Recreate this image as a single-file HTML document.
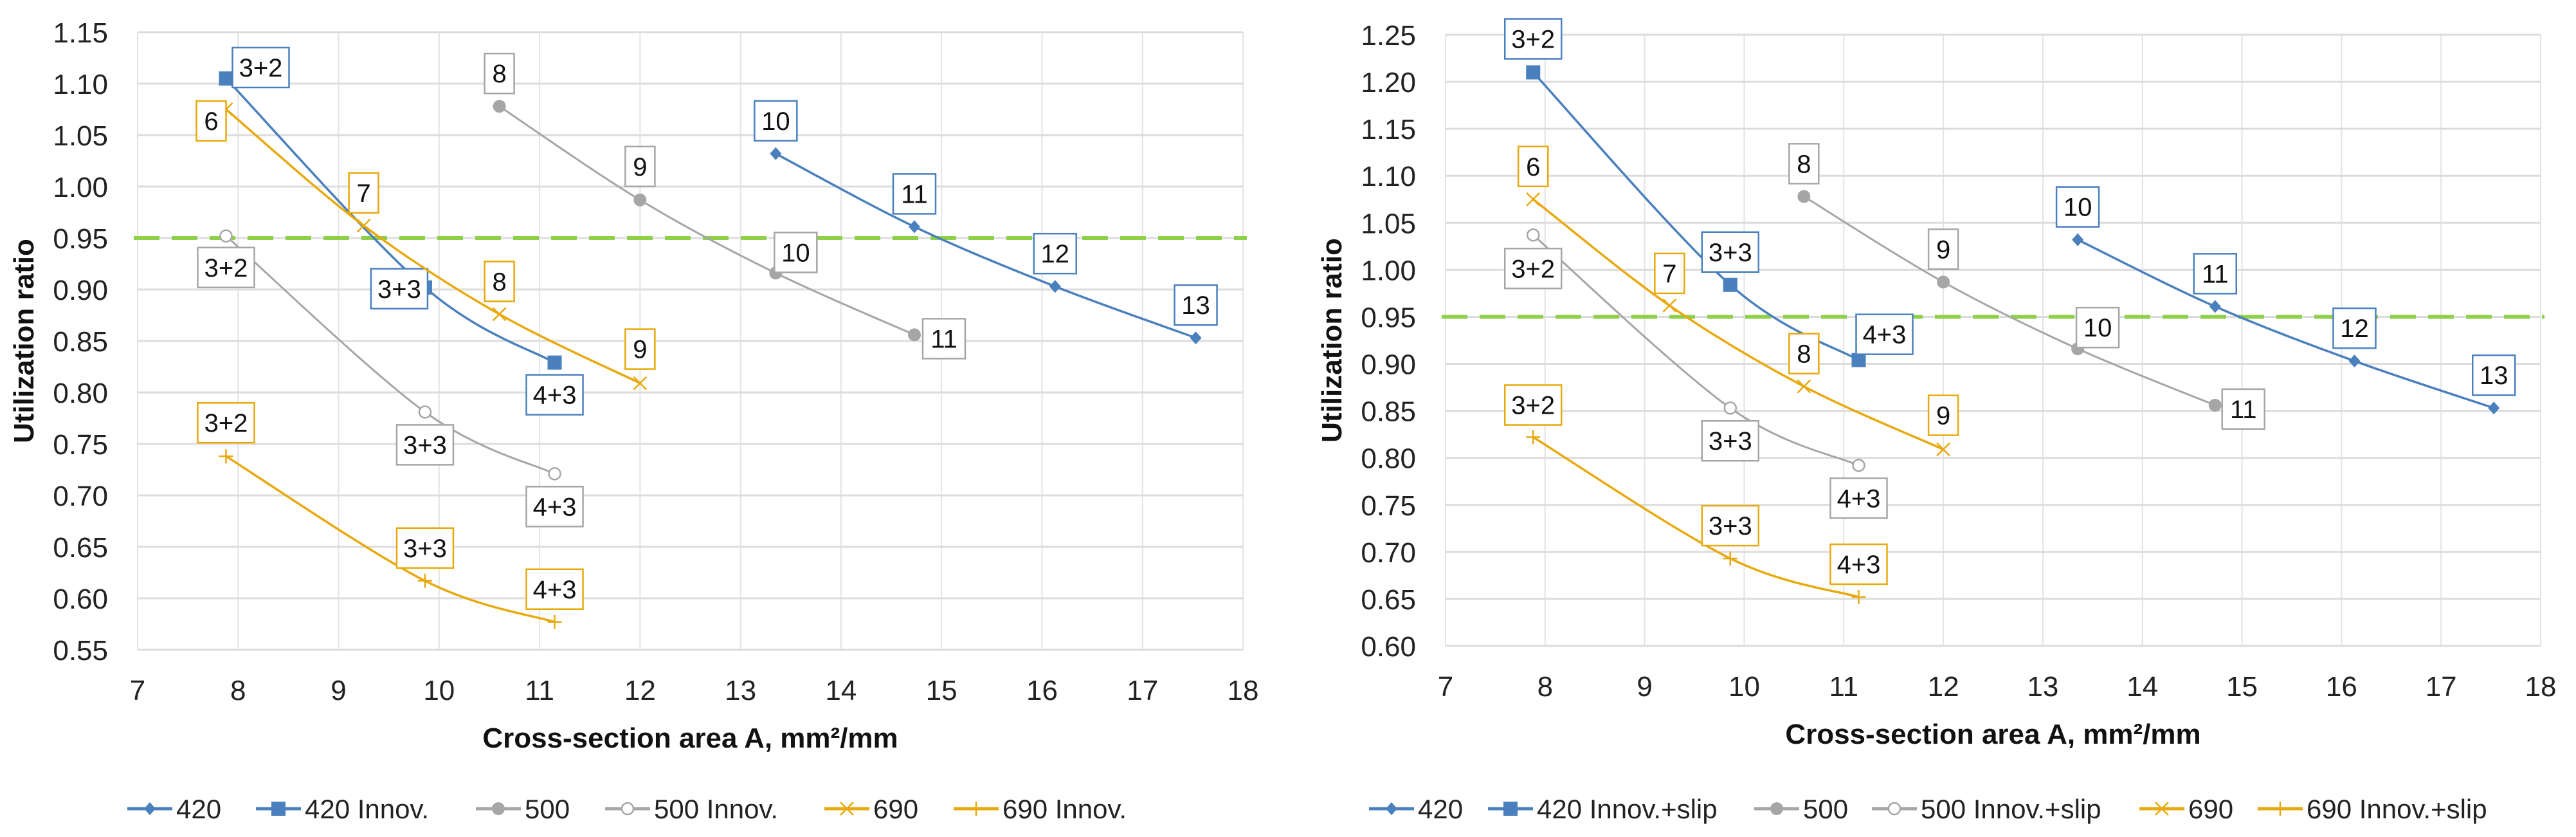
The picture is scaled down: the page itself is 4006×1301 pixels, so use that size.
<!DOCTYPE html>
<html><head><meta charset="utf-8">
<style>
html,body{margin:0;padding:0;background:#fff;}
svg{display:block;font-family:"Liberation Sans",sans-serif;}
</style></head>
<body>
<svg id="root" width="4006" height="1301" viewBox="0 0 4006 1301" xmlns="http://www.w3.org/2000/svg"></svg>
<script>
// ---- shared data ----
const xTicks = [7,8,9,10,11,12,13,14,15,16,17,18];
const yTicksLeft = [0.55,0.60,0.65,0.70,0.75,0.80,0.85,0.90,0.95,1.00,1.05,1.10,1.15];
const yTicksRight = [0.60,0.65,0.70,0.75,0.80,0.85,0.90,0.95,1.00,1.05,1.10,1.15,1.20,1.25];
const limitValue = 0.95;

const x420 = [13.35,14.73,16.13,17.53];
const y420 = [1.032,0.961,0.903,0.853];
const lab420 = ["10","11","12","13"];
const x500 = [10.6,12.0,13.35,14.73];
const y500 = [1.078,0.987,0.916,0.856];
const lab500 = ["8","9","10","11"];
const x690 = [7.88,9.25,10.6,12.0];
const y690 = [1.075,0.962,0.876,0.809];
const lab690 = ["6","7","8","9"];
const xInnov = [7.88,9.86,11.15];
const labInnov = ["3+2","3+3","4+3"];

// left chart (Innov.)
const y420InnovL = [1.105,0.902,0.829];
const y500InnovL = [0.952,0.781,0.721];
const y690InnovL = [0.738,0.617,0.577];
// right chart (Innov.+slip)
const y420InnovR = [1.210,0.984,0.904];
const y500InnovR = [1.037,0.853,0.792];
const y690InnovR = [0.822,0.693,0.652];

const legendLeft = ["420","420 Innov.","500","500 Innov.","690","690 Innov."];
const legendRight = ["420","420 Innov.+slip","500","500 Innov.+slip","690","690 Innov.+slip"];

// ---- layout (positions/styles, not data) ----
const BLUE="#4a80bd", GRAY="#a6a6a6", ORANGE="#e8a90c", GREEN="#8fd04a";
const NS="http://www.w3.org/2000/svg";
const root=document.getElementById('root');
function mk(tag,attrs,parent){const e=document.createElementNS(NS,tag);for(const k in attrs)e.setAttribute(k,attrs[k]);(parent||root).appendChild(e);return e;}

function smoothPath(pts){
  if(pts.length<2)return "";
  let d="M"+pts[0][0]+","+pts[0][1];
  const t=0.5/3*2;
  for(let i=0;i<pts.length-1;i++){
    const p0=pts[i-1]||pts[i],p1=pts[i],p2=pts[i+1],p3=pts[i+2]||pts[i+1];
    const c1=[p1[0]+(p2[0]-p0[0])*t/2,p1[1]+(p2[1]-p0[1])*t/2];
    const c2=[p2[0]-(p3[0]-p1[0])*t/2,p2[1]-(p3[1]-p1[1])*t/2];
    d+=" C"+c1[0]+","+c1[1]+" "+c2[0]+","+c2[1]+" "+p2[0]+","+p2[1];
  }
  return d;
}

function marker(g,type,cx,cy,color){
  let m;
  if(type==="diamond") m=mk('path',{d:`M${cx},${cy-10}L${cx+9},${cy}L${cx},${cy+10}L${cx-9},${cy}Z`,fill:color},g);
  else if(type==="square") m=mk('rect',{x:cx-11,y:cy-11,width:22,height:22,fill:color},g);
  else if(type==="dot") m=mk('circle',{cx:cx,cy:cy,r:10,fill:color},g);
  else if(type==="ring") m=mk('circle',{cx:cx,cy:cy,r:9,fill:"#fff",stroke:color,"stroke-width":2.5},g);
  else if(type==="x") m=mk('path',{d:`M${cx-10},${cy-10}L${cx+10},${cy+10}M${cx-10},${cy+10}L${cx+10},${cy-10}`,stroke:color,"stroke-width":2.5},g);
  else m=mk('path',{d:`M${cx-11},${cy}L${cx+11},${cy}M${cx},${cy-11}L${cx},${cy+11}`,stroke:color,"stroke-width":2.5},g);
  
  
}

function label(g,text,cx,cy,color){
  const w = text.length===1?46:(text.length===2?66:88), h=62;
  const r=mk('rect',{x:cx-w/2,y:cy-h/2,width:w,height:h,fill:"#fff",stroke:color,"stroke-width":2.5},g);
  
  
  const t=mk('text',{x:cx,y:cy+14,"text-anchor":"middle","font-size":40,fill:"#111"},g);
  t.textContent=text;
  
  
}

function drawChart(cfg){
  const g=mk('g',{});
  
  
  const sx=v=>cfg.x0+(v-xTicks[0])/(xTicks[xTicks.length-1]-xTicks[0])*(cfg.x1-cfg.x0);
  const yT=cfg.yTicks, ymin=yT[0], ymax=yT[yT.length-1];
  const sy=v=>cfg.yb+(v-ymin)/(ymax-ymin)*(cfg.yt-cfg.yb);
  // grid
  xTicks.forEach(v=>{
    const l=mk('line',{x1:sx(v),x2:sx(v),y1:cfg.yt,y2:cfg.yb,stroke:"#e3e3e3","stroke-width":2},g);
    
    
    const t=mk('text',{x:sx(v),y:cfg.yb+78,"text-anchor":"middle","font-size":44,fill:"#222"},g);
    t.textContent=v;
    
    
  });
  yT.forEach(v=>{
    const l=mk('line',{x1:cfg.x0,x2:cfg.x1,y1:sy(v),y2:sy(v),stroke:"#dcdcdc","stroke-width":3},g);
    
    
    const t=mk('text',{x:cfg.x0-46,y:sy(v)+16,"text-anchor":"end","font-size":44,fill:"#222"},g);
    t.textContent=v.toFixed(2);
    
    
  });
  // limit line
  const lim=mk('line',{x1:cfg.x0-6,x2:cfg.x1+6,y1:sy(limitValue),y2:sy(limitValue),stroke:GREEN,"stroke-width":6,"stroke-dasharray":"40,19"},g);
  
  
  // series
  cfg.series.forEach(s=>{
    const sg=mk('g',{},g);
    
    
    const pts=s.xs.map((x,i)=>[sx(x),sy(s.ys[i])]);
    const p=mk('path',{d:smoothPath(pts),fill:"none",stroke:s.color,"stroke-width":s.w},sg);
    
    
    pts.forEach(q=>marker(sg,s.marker,q[0],q[1],s.color));
    pts.forEach((q,i)=>label(sg,s.labels[i],q[0]+s.off[i][0],q[1]+s.off[i][1],s.color));
  });
  // axis titles
  const yt=mk('text',{x:0,y:0,transform:`translate(${cfg.ytx},${(cfg.yt+cfg.yb)/2}) rotate(-90)`,"text-anchor":"middle","font-size":44,"font-weight":"bold",fill:"#111"},g);
  yt.textContent="Utilization ratio";
  
  
  const xt=mk('text',{x:(cfg.x0+cfg.x1)/2,y:cfg.yb+152,"text-anchor":"middle","font-size":44,"font-weight":"bold",fill:"#111"},g);
  xt.innerHTML="Cross-section area A, mm²/mm";
  
  
  // legend
  const types=["diamond","square","dot","ring","x","plus"];
  const cols=[BLUE,BLUE,GRAY,GRAY,ORANGE,ORANGE];
  cfg.legend.forEach((name,i)=>{
    const lg=mk('g',{},g);
    
    
    const lx=cfg.legX[i], ly=1257;
    mk('line',{x1:lx,x2:lx+70,y1:ly,y2:ly,stroke:cols[i],"stroke-width":5},lg);
    marker(lg,types[i],lx+35,ly,cols[i]);
    const t=mk('text',{x:lx+76,y:ly+15,"font-size":42,fill:"#222"},lg);
    t.textContent=name;
  });
}

const offStd=[[0,-51],[0,-51],[0,-51],[0,-51]];
drawChart({
  name:"left-chart", x0:214,x1:1933,yt:50,yb:1010,yTicks:yTicksLeft,ytx:52,
  legend:legendLeft, legX:[198,398,740,941,1282,1483],
  series:[
    {key:"420",xs:x420,ys:y420,labels:lab420,color:BLUE,marker:"diamond",w:3.5,off:offStd},
    {key:"420-innov",xs:xInnov,ys:y420InnovL,labels:labInnov,color:BLUE,marker:"square",w:3.5,off:[[54,-17],[-40,2],[0,50]]},
    {key:"500",xs:x500,ys:y500,labels:lab500,color:GRAY,marker:"dot",w:3,off:[[0,-51],[0,-52],[31,-32],[46,6]]},
    {key:"500-innov",xs:xInnov,ys:y500InnovL,labels:labInnov,color:GRAY,marker:"ring",w:3,off:[[0,49],[0,51],[0,51]]},
    {key:"690",xs:x690,ys:y690,labels:lab690,color:ORANGE,marker:"x",w:3.5,off:[[-23,18],[0,-51],[0,-51],[0,-53]]},
    {key:"690-innov",xs:xInnov,ys:y690InnovL,labels:labInnov,color:ORANGE,marker:"plus",w:3.5,off:[[0,-52],[0,-51],[0,-51]]}
  ]
});
drawChart({
  name:"right-chart", x0:2248,x1:3951,yt:54,yb:1004,yTicks:yTicksRight,ytx:2086,
  legend:legendRight, legX:[2129,2314,2728,2911,3327,3511],
  series:[
    {key:"420",xs:x420,ys:y420,labels:lab420,color:BLUE,marker:"diamond",w:3.5,off:offStd},
    {key:"420-innov-slip",xs:xInnov,ys:y420InnovR,labels:labInnov,color:BLUE,marker:"square",w:3.5,off:[[0,-52],[0,-51],[40,-40]]},
    {key:"500",xs:x500,ys:y500,labels:lab500,color:GRAY,marker:"dot",w:3,off:[[0,-51],[0,-51],[31,-33],[44,6]]},
    {key:"500-innov-slip",xs:xInnov,ys:y500InnovR,labels:labInnov,color:GRAY,marker:"ring",w:3,off:[[0,52],[0,51],[0,51]]},
    {key:"690",xs:x690,ys:y690,labels:lab690,color:ORANGE,marker:"x",w:3.5,off:[[0,-51],[0,-50],[0,-51],[0,-53]]},
    {key:"690-innov-slip",xs:xInnov,ys:y690InnovR,labels:labInnov,color:ORANGE,marker:"plus",w:3.5,off:[[0,-50],[0,-51],[0,-51]]}
  ]
});
</script>
</body></html>
